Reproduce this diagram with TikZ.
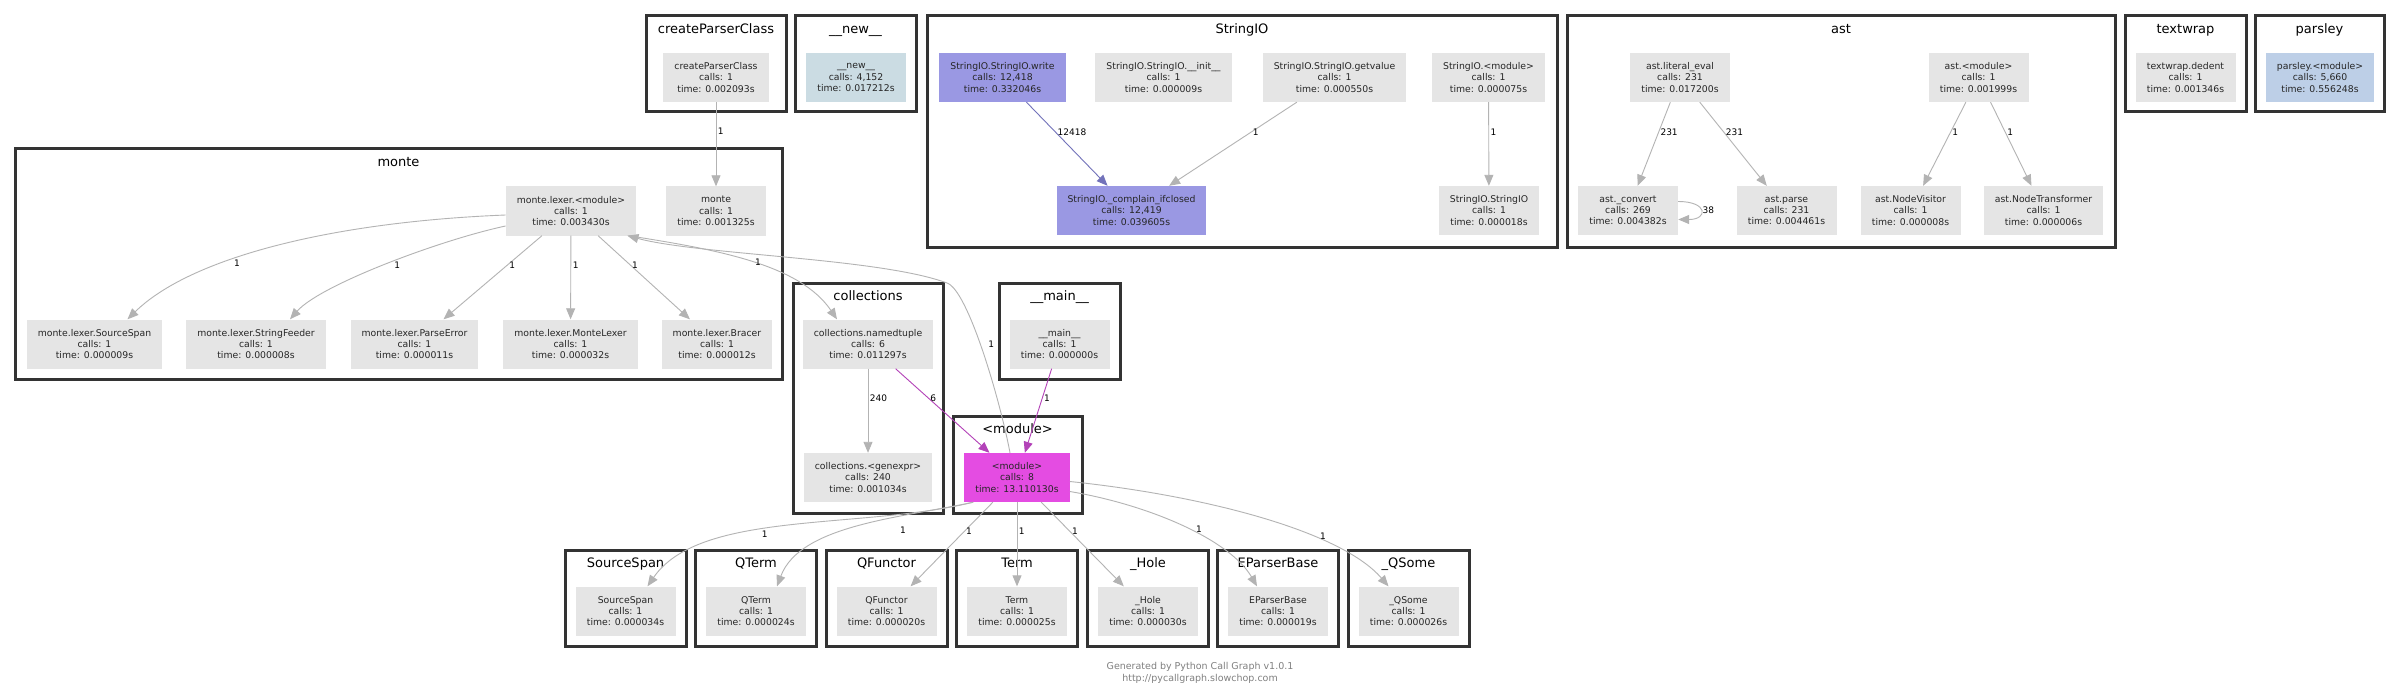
\documentclass[tikz,border=0pt]{standalone}
\usepackage{fontspec}
\setmainfont{DejaVu Sans}
\usetikzlibrary{positioning,arrows.meta}

\definecolor{fngray}{HTML}{E5E5E5}
\definecolor{fnpurple}{HTML}{9A98E3}
\definecolor{fnblue}{HTML}{CBDCE3}
\definecolor{fnsteel}{HTML}{BDCFE7}
\definecolor{fnmagenta}{HTML}{E44CE2}
\definecolor{edgegray}{HTML}{B3B3B3}
\definecolor{edgepurple}{HTML}{7272BA}
\definecolor{edgemagenta}{HTML}{B342B8}
\definecolor{clusterline}{HTML}{333333}
\definecolor{footgray}{HTML}{808080}

\tikzset{
  fn/.style={rectangle, fill=fngray, text=black!85, align=center,
    minimum width=100pt, minimum height=49pt, inner xsep=11pt, inner ysep=0pt,
    font=\fontsize{9.3}{11.3}\selectfont},
  cluster/.style 2 args={rectangle, draw=clusterline, line width=3pt, fill=white,
    minimum width=#1, minimum height=#2},
  ctitle/.style={font=\fontsize{13}{15}\selectfont, inner sep=0pt, anchor=base},
  call/.style={draw=edgegray, line width=0.9pt, -{Triangle[length=11pt,width=9pt]}},
  clabel/.style={font=\fontsize{9}{10}\selectfont, inner sep=1.5pt, anchor=west},
  foot/.style={font=\fontsize{9.5}{11}\selectfont, text=footgray, inner sep=0pt, anchor=base},
}

\begin{document}
\begin{tikzpicture}[x=1pt,y=-1pt]
    \fill[white] (0,0) rectangle (2400,695);
    \useasboundingbox (0,0) rectangle (2400,695);
    %Clusters top row
    \node[cluster={140}{96}] (c-cpc) at (716,64) {};
    \node[ctitle] (t-cpc) at (716,33.5) {createParserClass};
    \node[cluster={121}{96}] (c-new) at (855.5,64) {};
    \node[ctitle] (t-new) at (855.5,33.5) {\_\_new\_\_};
    \node[cluster={630}{231}] (c-sio) at (1242,131.5) {};
    \node[ctitle] (t-sio) at (1242,33.5) {StringIO};
    \node[cluster={548}{231}] (c-ast) at (1841,131.5) {};
    \node[ctitle] (t-ast) at (1841,33.5) {ast};
    \node[cluster={121}{96}] (c-tw) at (2185.5,64) {};
    \node[ctitle] (t-tw) at (2185.5,33.5) {textwrap};
    \node[cluster={129}{96}] (c-parsley) at (2319.5,64) {};
    \node[ctitle] (t-parsley) at (2319.5,33.5) {parsley};
    %Clusters middle
    \node[cluster={767}{230}] (c-monte) at (398.5,264) {};
    \node[ctitle] (t-monte) at (398.5,166.5) {monte};
    \node[cluster={150}{230}] (c-coll) at (868,398) {};
    \node[ctitle] (t-coll) at (868,300.5) {collections};
    \node[cluster={121}{96}] (c-main) at (1059.5,331) {};
    \node[ctitle] (t-main) at (1059.5,300.5) {\_\_main\_\_};
    \node[cluster={129}{97}] (c-mod) at (1017.5,464.5) {};
    \node[ctitle] (t-mod) at (1017.5,433.5) {<module>};
    %Clusters bottom row
    \node[cluster={121}{96}] (c-bsrc) at (625.5,598) {};
    \node[ctitle] (t-bsrc) at (625.5,567.5) {SourceSpan};
    \node[cluster={121}{96}] (c-bqterm) at (756,598) {};
    \node[ctitle] (t-bqterm) at (756,567.5) {QTerm};
    \node[cluster={121}{96}] (c-bqfunctor) at (886.5,598) {};
    \node[ctitle] (t-bqfunctor) at (886.5,567.5) {QFunctor};
    \node[cluster={121}{96}] (c-bterm) at (1017,598) {};
    \node[ctitle] (t-bterm) at (1017,567.5) {Term};
    \node[cluster={121}{96}] (c-bhole) at (1148,598) {};
    \node[ctitle] (t-bhole) at (1148,567.5) {\_Hole};
    \node[cluster={121}{96}] (c-beparser) at (1278,598) {};
    \node[ctitle] (t-beparser) at (1278,567.5) {EParserBase};
    \node[cluster={121}{96}] (c-bqsome) at (1408.5,598) {};
    \node[ctitle] (t-bqsome) at (1408.5,567.5) {\_QSome};

    %createParserClass and __new__
    \node[fn] (cpc) at (716,77.5) {createParserClass\\calls: 1\\time: 0.002093s};
    \node[fn, fill=fnblue] (new) at (856,77.5) {\_\_new\_\_\\calls: 4,152\\time: 0.017212s};
    %StringIO
    \node[fn, fill=fnpurple] (write) at (1002.5,77.5) {StringIO.StringIO.write\\calls: 12,418\\time: 0.332046s};
    \node[fn] (init) at (1163.5,77.5) {StringIO.StringIO.\_\_init\_\_\\calls: 1\\time: 0.000009s};
    \node[fn] (getvalue) at (1334.5,77.5) {StringIO.StringIO.getvalue\\calls: 1\\time: 0.000550s};
    \node[fn] (siomod) at (1488.5,77.5) {StringIO.<module>\\calls: 1\\time: 0.000075s};
    \node[fn, fill=fnpurple] (complain) at (1131.5,210.5) {StringIO.\_complain\_ifclosed\\calls: 12,419\\time: 0.039605s};
    \node[fn] (siosio) at (1489,210.5) {StringIO.StringIO\\calls: 1\\time: 0.000018s};
    %ast
    \node[fn] (literal) at (1680,77.5) {ast.literal\_eval\\calls: 231\\time: 0.017200s};
    \node[fn] (astmod) at (1978.5,77.5) {ast.<module>\\calls: 1\\time: 0.001999s};
    \node[fn] (convert) at (1628,210.5) {ast.\_convert\\calls: 269\\time: 0.004382s};
    \node[fn] (parse) at (1786.5,210.5) {ast.parse\\calls: 231\\time: 0.004461s};
    \node[fn] (visitor) at (1910.5,210.5) {ast.NodeVisitor\\calls: 1\\time: 0.000008s};
    \node[fn] (transformer) at (2043.5,210.5) {ast.NodeTransformer\\calls: 1\\time: 0.000006s};
    %textwrap and parsley
    \node[fn] (dedent) at (2185.5,77.5) {textwrap.dedent\\calls: 1\\time: 0.001346s};
    \node[fn, fill=fnsteel] (parsley) at (2320,77.5) {parsley.<module>\\calls: 5,660\\time: 0.556248s};
    %monte
    \node[fn] (lexmod) at (571,211) {monte.lexer.<module>\\calls: 1\\time: 0.003430s};
    \node[fn] (monte) at (716,211) {monte\\calls: 1\\time: 0.001325s};
    \node[fn] (lsrc) at (94.5,344) {monte.lexer.SourceSpan\\calls: 1\\time: 0.000009s};
    \node[fn] (feeder) at (256,344) {monte.lexer.StringFeeder\\calls: 1\\time: 0.000008s};
    \node[fn] (perr) at (414.5,344) {monte.lexer.ParseError\\calls: 1\\time: 0.000011s};
    \node[fn] (mlexer) at (570.5,344) {monte.lexer.MonteLexer\\calls: 1\\time: 0.000032s};
    \node[fn] (bracer) at (717,344) {monte.lexer.Bracer\\calls: 1\\time: 0.000012s};
    %collections, __main__, <module>
    \node[fn] (nt) at (868,344) {collections.namedtuple\\calls: 6\\time: 0.011297s};
    \node[fn] (genexpr) at (868,477.5) {collections.<genexpr>\\calls: 240\\time: 0.001034s};
    \node[fn] (mainnode) at (1059.5,344) {\_\_main\_\_\\calls: 1\\time: 0.000000s};
    \node[fn, fill=fnmagenta] (module) at (1017,477.5) {<module>\\calls: 8\\time: 13.110130s};
    %bottom row
    \node[fn] (bsrc) at (625.5,611) {SourceSpan\\calls: 1\\time: 0.000034s};
    \node[fn] (bqterm) at (756,611) {QTerm\\calls: 1\\time: 0.000024s};
    \node[fn] (bqfunctor) at (886.5,611) {QFunctor\\calls: 1\\time: 0.000020s};
    \node[fn] (bterm) at (1017,611) {Term\\calls: 1\\time: 0.000025s};
    \node[fn] (bhole) at (1148,611) {\_Hole\\calls: 1\\time: 0.000030s};
    \node[fn] (beparser) at (1278,611) {EParserBase\\calls: 1\\time: 0.000019s};
    \node[fn] (bqsome) at (1408.5,611) {\_QSome\\calls: 1\\time: 0.000026s};

    %Calls
    \draw[call] (cpc) -- (monte) node[clabel, pos=0.35]{1};
    \draw[call, draw=edgepurple] (write) -- (complain) node[clabel, pos=0.36]{12418};
    \draw[call] (getvalue) -- (complain) node[clabel, pos=0.36]{1};
    \draw[call] (siomod) -- (siosio) node[clabel, pos=0.36]{1};
    \draw[call] (literal) -- (convert) node[clabel, pos=0.36]{231};
    \draw[call] (literal) -- (parse) node[clabel, pos=0.36]{231};
    \draw[call] (astmod) -- (visitor) node[clabel, pos=0.36]{1};
    \draw[call] (astmod) -- (transformer) node[clabel, pos=0.36]{1};
    \draw[call] ([yshift=9pt]convert.east) .. controls +(30,0) and +(30,0) .. ([yshift=-9pt]convert.east) node[clabel, pos=0.5]{38};
    %monte.lexer
    \draw[call] ([yshift=-4pt]lexmod.west) .. controls (330,222) and (190,258) .. ([xshift=33pt]lsrc.north) node[clabel, anchor=north, pos=0.6]{1};
    \draw[call] ([yshift=-15pt]lexmod.west) .. controls (440,240) and (320,285) .. ([xshift=34pt]feeder.north) node[clabel, anchor=north, pos=0.45]{1};
    \draw[call] (lexmod) -- (perr) node[clabel, pos=0.35]{1};
    \draw[call] (lexmod) -- (mlexer) node[clabel, pos=0.35]{1};
    \draw[call] (lexmod) -- (bracer) node[clabel, pos=0.35]{1};
    \draw[call] ([xshift=-8pt]lexmod.south east) .. controls (720,250) and (800,265) .. ([xshift=-31pt]nt.north) node[clabel, pos=0.5]{1};
    \draw[call] ([xshift=-7pt]module.north) .. controls (1000,400) and (968,290) .. (947,283) node[clabel, pos=0.53, xshift=6pt]{1}
        .. controls (880,258) and (700,255) .. ([xshift=-9pt]lexmod.south east);
    %collections and __main__
    \draw[call] (nt) -- (genexpr) node[clabel, pos=0.35]{240};
    \draw[call, draw=edgemagenta] (nt) -- (module) node[clabel, pos=0.35]{6};
    \draw[call, draw=edgemagenta] (mainnode) -- (module) node[clabel, pos=0.35]{1};
    %<module>
    \draw[call] ([xshift=9pt]module.south west) .. controls (860,530) and (700,510) .. ([xshift=22pt]bsrc.north) node[clabel, anchor=north east, pos=0.55]{1};
    \draw[call] ([xshift=9pt]module.south west) .. controls (900,518) and (800,525) .. ([xshift=21pt]bqterm.north) node[clabel, anchor=north, pos=0.3, yshift=-9pt]{1};
    \draw[call] (module) -- (bqfunctor) node[clabel, pos=0.35]{1};
    \draw[call] (module) -- (bterm) node[clabel, pos=0.35]{1};
    \draw[call] (module) -- (bhole) node[clabel, pos=0.35]{1};
    \draw[call] ([yshift=-14pt]module.east) .. controls (1150,505) and (1230,540) .. ([xshift=-21pt]beparser.north) node[clabel, anchor=south, pos=0.58]{1};
    \draw[call] ([yshift=-4pt]module.east) .. controls (1200,495) and (1340,530) .. ([xshift=-20pt]bqsome.north) node[clabel, anchor=south, pos=0.7]{1};

    %Footer
    \node[foot] (foot1) at (1200,669) {Generated by Python Call Graph v1.0.1};
    \node[foot] (foot2) at (1200,681) {http://pycallgraph.slowchop.com};
\end{tikzpicture}
\end{document}
